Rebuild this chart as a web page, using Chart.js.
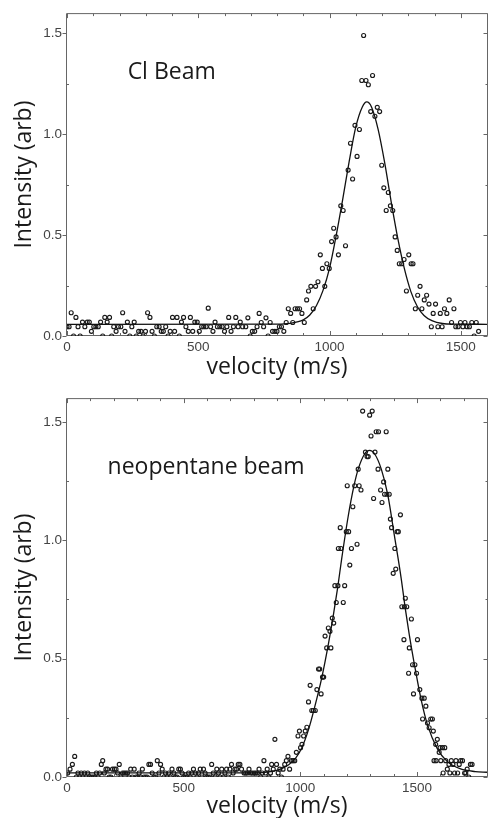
<!DOCTYPE html>
<html>
<head>
<meta charset="utf-8">
<script src="https://cdn.jsdelivr.net/npm/chart.js@4.4.1/dist/chart.umd.min.js"></script>
<style>
html, body { margin: 0; padding: 0; background: #fff; overflow: hidden; }
#wrap { position: relative; width: 490px; height: 818px; }
canvas { position: absolute; left: 0; }
#chartCl { top: 0; }
#chartNeo { top: 385px; }
</style>
</head>
<body>
<div id="wrap">
  <canvas id="chartCl" width="490" height="385"></canvas>
  <canvas id="chartNeo" width="490" height="433"></canvas>
</div>
<script>
/* Cl beam : measured points */
const clVel = [0,8,16,25,34,42,50,59,68,77,85,93,102,110,119,128,136,144,153,162,
  170,178,187,196,205,212,221,230,239,247,256,264,273,282,290,299,307,316,324,333,
  342,351,359,367,376,385,393,402,410,419,428,436,444,453,462,470,479,487,496,504,
  513,521,530,538,547,556,564,573,582,591,600,609,616,625,634,643,652,660,669,
  681,689,698,706,715,724,732,740,749,758,766,774,783,792,800,809,817,826,835,843,
  852,860,869,878,886,895,904,913,920,929,938,947,956,965,973,982,990,999,1008,1016,
  1025,1034,1043,1052,1061,
  1071,1080,1088,1097,1105,1114,1123,1130,1139,1148,1157,1164,1173,1182,1191,1199,1207,1216,1224,
  1232,1241,1250,1258,1266,1275,1284,1293,1302,1311,1318,1327,1336,1345,1352,1361,1370,1379,1388,1395,
  1404,1413,1422,1429,1438,1447,1456,1465,1474,1481,1490,1499,1508,1516,1524,1533,1542,1551,1559,1568];
const clInt = [0.046,0.046,0.115,0,0.092,0.046,0,0.069,0.046,0.069,0.069,0.023,0.046,0.046,0.046,0.069,0,0.092,0.069,0.092,
  0,0.046,0.023,0.046,0.046,0.115,0.023,0.069,0,0.046,0.069,0,0.023,0.023,0,0.023,0.115,0.092,0.023,0,
  0.046,0.046,0.023,0.023,0.046,0,0.023,0.092,0.023,0.092,0,0.069,0.092,0.046,0.023,0.092,0.023,0.069,0.069,0.023,
  0.046,0.046,0.046,0.138,0.046,0.023,0.069,0.046,0.046,0.046,0.023,0.046,0.092,0.023,0.046,0.092,0.046,0.069,0.046,
  0.046,0.090,0,0.023,0.023,0.046,0.112,0.067,0.046,0.090,0,0.067,0.023,0.023,0.023,0.046,0.046,0.023,0.067,0.135,
  0.112,0.067,0.135,0.135,0.135,0.112,0.067,0.179,0.223,0.246,0.135,0.246,0.269,0.402,0.335,0.246,0.358,0.335,0.468,0.534,
  0.491,0.402,0.645,0.622,0.447,
  0.822,0.955,0.778,1.044,0.890,1.023,1.266,1.489,1.266,1.245,1.112,1.291,1.089,1.133,1.112,0.846,0.734,0.622,0.711,
  0.645,0.622,0.491,0.424,0.358,0.358,0.379,0.223,0.402,0.358,0.358,0.135,0.202,0.246,0.135,0.179,0.202,0.158,0.046,0.112,
  0.158,0.046,0.112,0.046,0.135,0.112,0.179,0.067,0.135,0.046,0.046,0.067,0.046,0.067,0.046,0.046,0.067,0,0.067,0.023];

/* Cl beam : fitted curve */
const clFitVel = [0,800,850,900,925,950,975,1000,1025,1050,1075,1100,1125,1142,1160,1185,1210,1235,1260,1285,1310,1335,1360,1390,1430,1480,1600];
const clFitInt = [0.058,0.059,0.063,0.08,0.104,0.15,0.225,0.335,0.495,0.675,0.865,1.035,1.135,1.16,1.135,1.025,0.86,0.665,0.485,0.335,0.22,0.145,0.102,0.076,0.062,0.059,0.058];

/* neopentane beam : measured points */
const neoVel = [3,13,23,33,40,47,54,61,68,75,82,89,96,105,112,119,126,133,140,147,
  153,160,167,174,181,188,195,203,210,217,224,231,238,245,252,259,266,273,280,288,
  295,302,309,316,323,330,337,344,351,358,365,373,380,387,394,401,408,415,422,429,
  436,443,450,458,465,472,479,486,493,500,507,514,521,528,535,542,550,557,564,571,
  578,585,592,599,606,613,620,627,635,642,649,656,663,670,677,684,691,698,705,712,
  720,727,734,741,748,
  759,766,773,780,787,794,802,809,816,823,830,837,844,851,858,865,872,877,884,891,
  898,905,912,919,926,933,940,947,954,962,969,976,983,990,996,1001,1007,1014,1021,1028,
  1035,1042,1049,1056,1064,1071,1078,1083,1089,1095,1100,1106,1113,1120,1127,1131,1137,1143,
  1148,1154,1161,1163,1171,1174,1184,1190,1197,1201,1207,1212,1219,1225,1233,1243,1248,1252,1260,1267,
  1279,1286,1291,1297,1303,1308,1314,1320,1325,1333,1335,1344,1350,1357,1361,1368,1371,1375,1381,1386,
  1391,1398,1405,1409,1415,1420,1429,1435,1446,1450,1456,
  1444,1464,1467,1476,1481,1485,1491,1498,1502,1512,1521,1524,1531,1538,1545,1552,1559,1566,1570,1573,
  1580,1582,1587,1595,1599,1602,1609,1612,1619,1623,1630,1637,1641,1647,1654,1661,1667,1674,1681,1687,
  1695,1704,1709,1715,1722,1729,1736];
const neoInt = [0.017,0.033,0.053,0.087,0,0.017,0,0.017,0,0.017,0,0.017,0,0,0,0,0.017,0,0.017,0.053,
  0.069,0.017,0.033,0.033,0,0,0.033,0.033,0.033,0.017,0.053,0,0.017,0.017,0.017,0.017,0,0.033,0,0.033,
  0,0,0.017,0,0.033,0,0,0,0.053,0.053,0.017,0,0,0.069,0.017,0.053,0.033,0,0.017,0,
  0.017,0,0.033,0.017,0,0,0.033,0.033,0.017,0,0,0,0.017,0,0.017,0.033,0.017,0,0.017,0.033,
  0,0.033,0.017,0,0,0,0.053,0.017,0,0.033,0.017,0,0.033,0,0.017,0.033,0,0.033,0.053,0.017,
  0.033,0.033,0.053,0.053,0.033,
  0.017,0.017,0.017,0.033,0.017,0.017,0.017,0.017,0.017,0.033,0,0.017,0.069,0.017,0.033,0,0.017,0.053,0.033,0.159,
  0.053,0.017,0.033,0,0.033,0.053,0.069,0.087,0.033,0.069,0.069,0.069,0.104,0.173,0.194,0.124,0.138,0.173,0.194,0.210,
  0.317,0.387,0.281,0.281,0.281,0.369,0.456,0.456,0.351,0.422,0.422,0.595,0.545,0.629,0.615,0.545,0.671,0.650,
  0.808,0.737,0.808,0.965,1.053,0.965,0.737,0.808,1.036,1.230,1.036,0.895,0.965,1.141,1.230,0.983,1.300,1.230,1.212,1.545,
  1.372,1.353,1.353,1.528,1.440,1.545,1.176,1.372,1.458,1.300,1.458,1.212,1.159,1.246,1.194,1.458,1.194,1.300,1.194,1.089,
  1.053,0.860,0.965,0.878,1.036,1.036,1.107,0.719,0.719,0.755,0.719,
  0.580,0.438,0.545,0.667,0.474,0.351,0.474,0.438,0.580,0.369,0.333,0.245,0.333,0.299,0.228,0.208,0.245,0.245,0.194,0.069,
  0.138,0.069,0.159,0.104,0.124,0.069,0.124,0.017,0.124,0.069,0.033,0.053,0.017,0.069,0.053,0.017,0.069,0.017,0.053,0.069,
  0.069,0.017,0.017,0.033,0,0.053,0.053];

/* neopentane beam : fitted curve */
const neoFitVel = [0,800,880,920,950,980,1007,1035,1060,1092,1120,1141,1160,1177,1205,1230,1248,1276,1297,1318,1347,1375,1403,1432,1450,1467,1488,1517,1545,1587,1630,1687,1750,1800];
const neoFitInt = [0.017,0.017,0.024,0.035,0.052,0.08,0.125,0.2,0.29,0.42,0.56,0.68,0.8,0.92,1.1,1.23,1.3,1.365,1.379,1.365,1.3,1.19,1.02,0.84,0.71,0.6,0.48,0.33,0.22,0.12,0.065,0.034,0.023,0.02];

/* axis labels */
const yLabelTicks = [0, 0.5, 1.0, 1.5];
const xLabelTicks = [0, 500, 1000, 1500];

const textColor = '#1a1a1a';
const tickColor = '#444';

function pairs(xs, ys) {
    return xs.map((v, i) => ({x: v, y: ys[i]}));
}

// frame + inward ticks + the beam name inside the plot
const frameTicks = {
    id: 'frameTicks',
    beforeDatasetsDraw(chart, args, opts) {
        const {ctx, chartArea: a, scales: {x, y}} = chart;
        const l = a.left - 0.5, r = a.right + 0.5, t = a.top + 0.5, b = a.bottom - 0.5;
        ctx.save();
        ctx.strokeStyle = '#666';
        ctx.lineWidth = 1;
        ctx.beginPath();
        ctx.moveTo(l, b); ctx.lineTo(l, t); ctx.lineTo(r, t); ctx.lineTo(r, b); ctx.closePath();
        x.ticks.forEach(tk => {
            const px = Math.round(x.getPixelForValue(tk.value)) + 0.5;
            const len = xLabelTicks.includes(tk.value) ? 4.5 : 2.5;
            ctx.moveTo(px, b); ctx.lineTo(px, b - len);
            ctx.moveTo(px, t); ctx.lineTo(px, t + len);
        });
        y.ticks.forEach(tk => {
            const py = Math.round(y.getPixelForValue(tk.value)) + 0.5;
            const major = yLabelTicks.includes(tk.value);
            if (major) { ctx.moveTo(l - 4, py); ctx.lineTo(l, py); }
            else { ctx.moveTo(l, py); ctx.lineTo(l + 2.5, py); }
            ctx.moveTo(r, py); ctx.lineTo(r - (major ? 4 : 2), py);
        });
        ctx.stroke();

        ctx.fillStyle = textColor;
        ctx.font = '23px "Open Sans"';
        ctx.textAlign = 'left';
        ctx.textBaseline = 'middle';
        ctx.fillText(opts.text, x.getPixelForValue(opts.at[0]), y.getPixelForValue(opts.at[1]));
        ctx.restore();
    }
};

function makeChart(id, pts, fit, xMax, top, xH, label, labelAt) {
    return new Chart(document.getElementById(id), {
        type: 'scatter',
        data: {
            datasets: [{
                data: fit,
                showLine: true,
                borderColor: '#111',
                borderWidth: 1.3,
                pointRadius: 0,
                cubicInterpolationMode: 'monotone'
            }, {
                data: pts,
                pointRadius: 2,
                pointBorderWidth: 1.15,
                pointBorderColor: '#1a1a1a',
                pointBackgroundColor: 'rgba(255,255,255,0)'
            }]
        },
        options: {
            responsive: false,
            animation: false,
            devicePixelRatio: 1,
            layout: { autoPadding: false, padding: { top: top, left: 0, right: 0, bottom: 0 } },
            plugins: {
                legend: { display: false },
                tooltip: { enabled: false },
                frameTicks: { text: label, at: labelAt }
            },
            scales: {
                x: {
                    type: 'linear', min: 0, max: xMax,
                    border: { display: false },
                    grid: { display: false, drawTicks: false },
                    ticks: {
                        stepSize: 100, includeBounds: false, autoSkip: false, maxRotation: 0,
                        padding: 3, color: tickColor,
                        font: { family: 'Liberation Sans', size: 13.5 },
                        callback: v => xLabelTicks.includes(v) ? String(v) : ''
                    },
                    title: {
                        display: true, text: 'velocity (m/s)', color: textColor,
                        font: { family: 'Open Sans', size: 23, lineHeight: 1 },
                        padding: { top: 0, bottom: xH === 49 ? 6 : 0 }
                    },
                    afterFit: s => { s.height = xH; }
                },
                y: {
                    type: 'linear', min: 0, max: 1.6,
                    border: { display: false },
                    grid: { display: false, drawTicks: false },
                    ticks: {
                        stepSize: 0.25, includeBounds: false, autoSkip: false,
                        padding: 5, color: tickColor,
                        font: { family: 'Liberation Sans', size: 13.5 },
                        callback: v => yLabelTicks.includes(v) ? v.toFixed(1) : ''
                    },
                    title: {
                        display: true, text: 'Intensity (arb)', color: textColor,
                        font: { family: 'Open Sans', size: 23, lineHeight: 1 },
                        padding: { top: 13, bottom: 0 }
                    },
                    afterFit: s => { s.width = 67; }
                }
            }
        },
        plugins: [frameTicks]
    });
}

makeChart('chartCl', pairs(clVel, clInt), pairs(clFitVel, clFitInt), 1600, 11, 49, 'Cl Beam', [231, 1.305]);
makeChart('chartNeo', pairs(neoVel, neoInt), pairs(neoFitVel, neoFitInt), 1800, 6, 41, 'neopentane beam', [174, 1.307]);
</script>
</body>
</html>
